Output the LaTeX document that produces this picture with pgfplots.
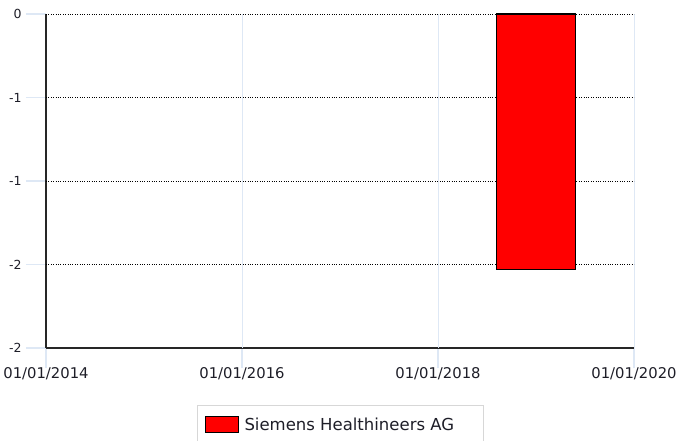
\documentclass[border=0pt]{standalone}
\usepackage{pgfplots}
\pgfplotsset{compat=1.18}
\usepackage{fontspec}
\setmainfont{DejaVu Sans}
\definecolor{gridblue}{RGB}{222,232,245}
\definecolor{txt}{RGB}{30,30,40}
\begin{document}
\begin{tikzpicture}
\useasboundingbox (-46pt,-93pt) rectangle (631pt,348pt);
\begin{axis}[
  at={(0pt,0pt)}, anchor=south west,
  scale only axis, width=588pt, height=334pt,
  xmin=0, xmax=6, ymin=-2, ymax=0,
  axis x line*=bottom, axis y line*=left,
  axis line style={black!85, line width=1.3pt, -},
  xtick={0,2,4,6},
  xticklabels={01/01/2014,01/01/2016,01/01/2018,01/01/2020},
  ytick={0,-0.5,-1,-1.5,-2},
  yticklabels={0,-1,-1,-2,-2},
  tick align=outside,
  major tick length=20pt,
  tick style={draw=gridblue, line width=1.2pt},
  xticklabel style={font=\fontsize{14.8}{16}\selectfont, text=txt, yshift=4pt},
  yticklabel style={font=\fontsize{12.5}{14}\selectfont, text=txt, xshift=-1pt},
  extra y ticks={0,-0.5,-1,-1.5},
  extra y tick labels={},
  extra y tick style={grid=major, major tick length=0pt, major grid style={black, dotted, line width=0.9pt}},
  extra x ticks={2,4,6},
  extra x tick labels={},
  extra x tick style={grid=major, major tick length=0pt, major grid style={gridblue, line width=1pt}},
  ybar, bar width=0.8,
  legend style={at={(0.2568,-0.1707)}, anchor=north west, draw={rgb,255:red,215;green,215;blue,215}, line width=1pt,
    font=\fontsize{16.5}{18}\selectfont, text=txt, inner xsep=7pt, inner ysep=10pt,
    legend cell align=left,
    nodes={inner xsep=6pt}},
  legend image code/.code={\draw[#1, line width=1pt] (0pt,-8pt) rectangle (33pt,8pt);},
]
\addplot[draw=black, fill=red, line width=1.2pt] coordinates {(5,-1.53)};
\addlegendentry{Siemens Healthineers AG\hspace*{16pt}}
\end{axis}
\end{tikzpicture}
\end{document}
